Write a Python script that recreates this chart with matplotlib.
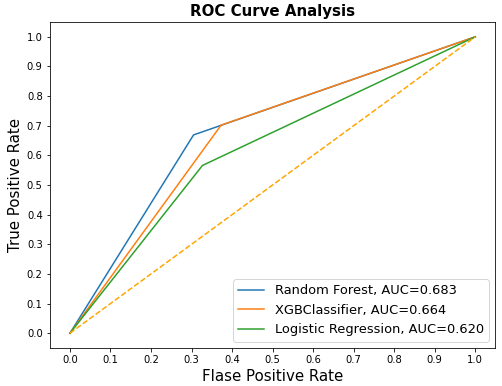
import matplotlib
matplotlib.use("Agg")
import matplotlib.pyplot as plt
import numpy as np

models = ["Random Forest", "XGBClassifier", "Logistic Regression"]
fpr_list = [[0.0, 0.305, 1.0], [0.0, 0.373, 1.0], [0.0, 0.327, 1.0]]
tpr_list = [[0.0, 0.669, 1.0], [0.0, 0.702, 1.0], [0.0, 0.566, 1.0]]
auc_list = [0.683, 0.664, 0.620]

fig = plt.figure(figsize=(502/72, 386/72), dpi=72)
ax = fig.add_axes([0.099, 0.0984, 0.888, 0.8446])

for name, fpr, tpr, auc in zip(models, fpr_list, tpr_list, auc_list):
  ax.plot(fpr, tpr, label="{}, AUC={:.3f}".format(name, auc))

ax.plot([0, 1], [0, 1], color='orange', linestyle='--')

ax.set_xticks(np.arange(0.0, 1.1, step=0.1))
ax.set_yticks(np.arange(0.0, 1.1, step=0.1))
ax.set_xlabel("Flase Positive Rate", fontsize=15)
ax.set_ylabel("True Positive Rate", fontsize=15)
ax.set_title('ROC Curve Analysis', fontweight='bold', fontsize=15)
ax.legend(prop={'size': 13}, loc='lower right')

fig.savefig("out.png", dpi=72)
